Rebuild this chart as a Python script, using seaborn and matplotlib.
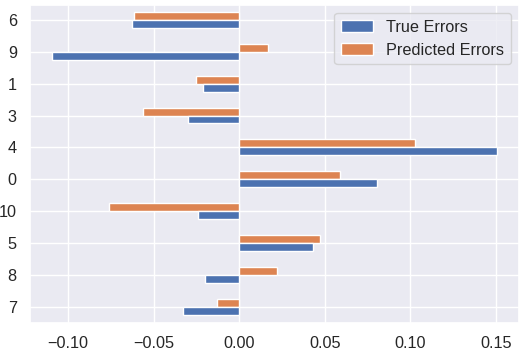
import matplotlib
matplotlib.use("Agg")
import matplotlib.pyplot as plt
import seaborn as sns
import pandas as pd

categories = ["6", "9", "1", "3", "4", "0", "10", "5", "8", "7"]
true_errors = [-0.0625, -0.1093, -0.0214, -0.0300, 0.1505, 0.0803, -0.0239, 0.0432, -0.0202, -0.0327]
pred_errors = [-0.0617, 0.0165, -0.0255, -0.0562, 0.1025, 0.0587, -0.0760, 0.0469, 0.0218, -0.0130]

sns.set_theme(style="darkgrid")
plt.rcParams["font.family"] = ["Liberation Sans", "DejaVu Sans"]

df = pd.DataFrame({
    "cat": categories * 2,
    "value": true_errors + pred_errors,
    "series": ["True Errors"] * len(categories) + ["Predicted Errors"] * len(categories),
})

pal = sns.color_palette()
palette = {"True Errors": pal[0], "Predicted Errors": pal[1]}

fig = plt.figure(figsize=(5.27, 3.53), dpi=100)
ax = fig.add_axes([0.057, 0.085, 0.928, 0.901])
sns.barplot(data=df, x="value", y="cat", hue="series", order=categories,
            hue_order=["Predicted Errors", "True Errors"], palette=palette,
            orient="h", width=0.5, edgecolor="white", linewidth=1, saturation=1,
            ax=ax, errorbar=None)
ax.set_xlim(-0.1223, 0.1635)
ax.set_ylim(9.51, -0.47)
ax.set_xlabel("")
ax.set_ylabel("")
ax.grid(True, axis="both", color="white", linewidth=1)
ax.set_axisbelow(True)
ax.set_xticks([-0.10, -0.05, 0.00, 0.05, 0.10, 0.15])
ax.set_xticklabels(["\u22120.10", "\u22120.05", "0.00", "0.05", "0.10", "0.15"])
ax.tick_params(axis="both", labelsize=11.7)
handles, labels = ax.get_legend_handles_labels()
order = [labels.index("True Errors"), labels.index("Predicted Errors")]
ax.legend([handles[i] for i in order], [labels[i] for i in order],
          loc="upper right", fontsize=11.7)
fig.savefig("out.png", dpi=100)
